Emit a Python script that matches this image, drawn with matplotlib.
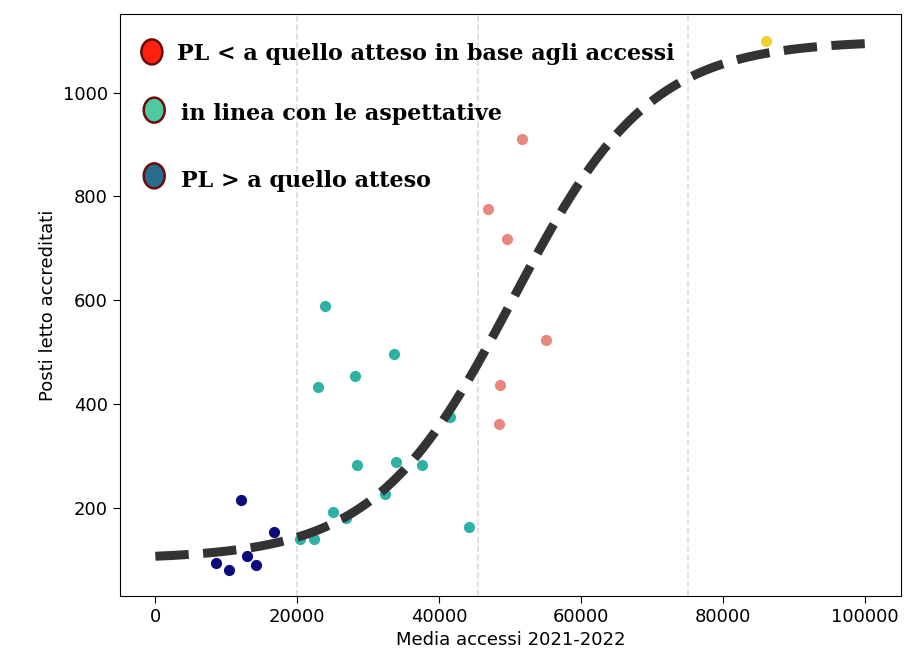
import numpy as np
import matplotlib
matplotlib.use("Agg")
import matplotlib.pyplot as plt
from matplotlib.patches import Ellipse

# punti: (media accessi, posti letto) per gruppo
navy_x = [8540, 10310, 12040, 12880, 14230, 16710]
navy_y = [95, 82, 215, 109, 91, 155]

teal_x = [23930, 22870, 28130, 33650, 41570, 28370, 33830, 37610, 32330,
          24970, 26830, 20430, 22390, 44230]
teal_y = [590, 433, 455, 497, 376, 283, 289, 283, 228, 192, 182, 140, 140, 164]

salmon_x = [51700, 46890, 49500, 54960, 48570, 48430]
salmon_y = [911, 775, 718, 524, 437, 362]

yellow_x = [85960]
yellow_y = [1100]

# curva logistica (parametri del fit)
fit_low, fit_high = 102, 1100
fit_k, fit_x0 = 1.03e-4, 50300
fit_xmin, fit_xmax = 0, 100000

soglie = [20000, 45500, 75000]

legend_labels = ["PL < a quello atteso in base agli accessi",
                 "in linea con le aspettative",
                 "PL > a quello atteso"]
legend_colors = ["#ff2010", "#50c8a0", "#2b6b8f"]

fig = plt.figure(figsize=(9.08, 6.62), dpi=100)
ax = fig.add_axes([0.132, 0.0997, 0.860, 0.879])

for s in soglie:
    ax.axvline(s, color="#dcdcdc", linestyle="--", linewidth=1.2, zorder=0)

ax.scatter(navy_x, navy_y, s=65, color="#0b0b7e", linewidths=0, zorder=2)
ax.scatter(teal_x, teal_y, s=65, color="#2fb2a5", linewidths=0, zorder=2)
ax.scatter(salmon_x, salmon_y, s=65, color="#e8887c", linewidths=0, zorder=2)
ax.scatter(yellow_x, yellow_y, s=65, color="#f3d12c", linewidths=0, zorder=2)

xs = np.linspace(fit_xmin, fit_xmax, 400)
ys = fit_low + (fit_high - fit_low) / (1 + np.exp(-fit_k * (xs - fit_x0)))
ax.plot(xs, ys, linestyle="--", color="#333333", linewidth=6.5, zorder=3)

ax.set_xlabel("Media accessi 2021-2022", fontsize=13)
ax.set_ylabel("Posti letto accreditati", fontsize=13)
ax.tick_params(labelsize=13, length=5)

# legenda disegnata a mano
ell_pos = [(0.041, 0.935), (0.044, 0.835), (0.044, 0.722)]
txt_pos = [(0.073, 0.932), (0.078, 0.829), (0.078, 0.714)]
for (ex, ey), (tx, ty), lab, col in zip(ell_pos, txt_pos, legend_labels, legend_colors):
    ax.add_patch(Ellipse((ex, ey), 21 / 781, 25 / 582, transform=ax.transAxes,
                         facecolor=col, edgecolor="#6a0c0c", linewidth=1.8,
                         zorder=5))
    ax.text(tx, ty, lab, transform=ax.transAxes, fontsize=16,
            fontfamily="DejaVu Serif", fontweight="bold", va="center",
            ha="left", zorder=5)

fig.savefig("out.png", dpi=100)
